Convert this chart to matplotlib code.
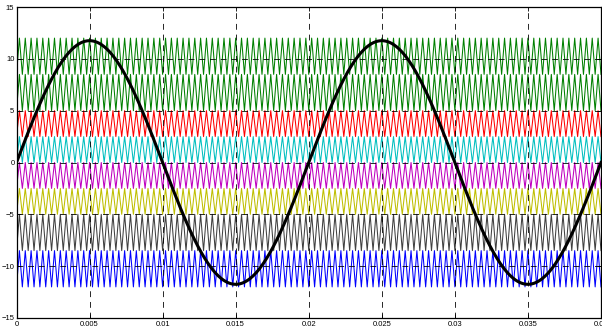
import matplotlib.pyplot as plt
import numpy as np

plt.rcParams['font.family'] = ['Liberation Sans', 'DejaVu Sans']

# carrier bands (top to bottom)
band_hi = [12.0, 8.5, 5.0, 2.5, 0.0, -2.5, -5.0, -8.5]
band_lo = [8.5, 5.0, 2.5, 0.0, -2.5, -5.0, -8.5, -12.0]
band_colors = ['#008000', '#008000', '#ff0000', '#00bfbf',
               '#bf00bf', '#bfbf00', '#404040', '#0000ff']
f_carrier = 2500.0   # Hz
f_ref = 50.0         # Hz
amp_ref = 11.75
t_end = 0.04

xticks = [0, 0.005, 0.01, 0.015, 0.02, 0.025, 0.03, 0.035, 0.04]
xtick_labels = ['0', '0.005', '0.01', '0.015', '0.02', '0.025', '0.03', '0.035', '0.04']
yticks = [-15, -10, -5, 0, 5, 10, 15]

fig = plt.figure(figsize=(6.02, 3.31), dpi=100)
ax = fig.add_axes([16.5 / 602, 13 / 331, 584.5 / 602, 311 / 331])

# triangle carriers: vertices at every half period
n_half = int(round(t_end * f_carrier * 2))
tv = np.arange(n_half + 1) / (2 * f_carrier)
for hi, lo, c in zip(band_hi, band_lo, band_colors):
    yv = np.where(np.arange(n_half + 1) % 2 == 0, lo, hi)
    ax.plot(tv, yv, color=c, lw=0.75, zorder=2)

# sinusoidal reference
t = np.linspace(0, t_end, 2000)
ax.plot(t, amp_ref * np.sin(2 * np.pi * f_ref * t), color='black', lw=2.2, zorder=4)

ax.set_xlim(0, t_end)
ax.set_ylim(-15, 15)
ax.set_xticks(xticks)
ax.set_xticklabels(xtick_labels)
ax.set_yticks(yticks)
ax.tick_params(direction='in', length=3, width=0.6, labelsize=5.5, pad=2,
               top=True, right=True)
ax.tick_params(axis='y', pad=1.5)
ax.grid(True, color='black', lw=0.7, linestyle=(0, (6, 5)), alpha=0.85, zorder=3)
ax.set_axisbelow(False)
for s in ax.spines.values():
    s.set_linewidth(0.9)

fig.savefig('out.png', dpi=100)
